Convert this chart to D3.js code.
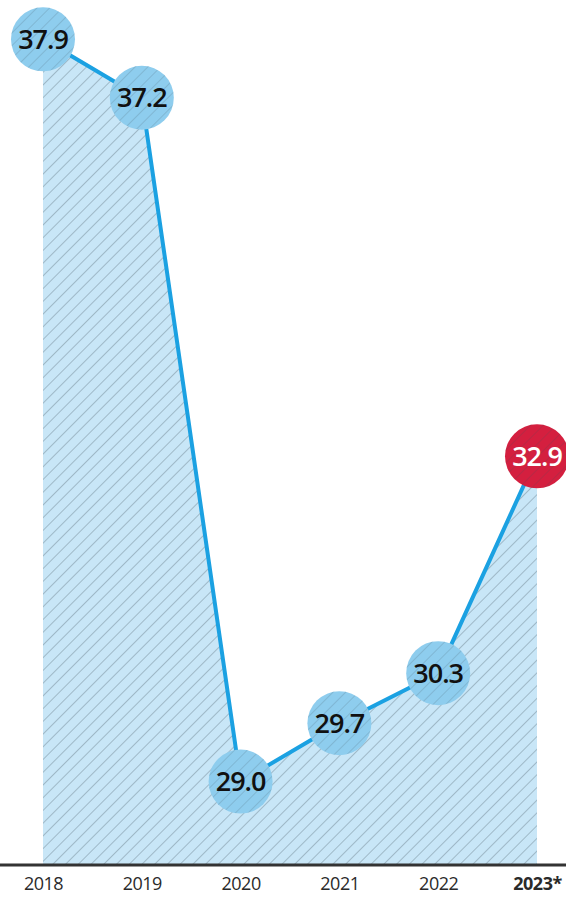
<!DOCTYPE html>
<html>
<head>
<meta charset="utf-8">
<script src="https://cdn.jsdelivr.net/npm/d3@7"></script>
<style>
  body { margin: 0; background: #fff; }
  svg { display: block; }
</style>
</head>
<body>
<div id="graph"></div>
<script>
var years = ["2018", "2019", "2020", "2021", "2022", "2023*"];
var values = [37.9, 37.2, 29.0, 29.7, 30.3, 32.9];
var highlight = [false, false, false, false, false, true];

var width = 566, height = 904;
var baseY = 865;

var vis = d3.select("#graph").append("svg")
  .attr("width", width)
  .attr("height", height);

var defs = vis.append("defs");
var pat = defs.append("pattern")
  .attr("id", "hatch")
  .attr("patternUnits", "userSpaceOnUse")
  .attr("width", 9)
  .attr("height", 9)
  .attr("patternTransform", "rotate(45)");
pat.append("line")
  .attr("x1", 0).attr("y1", 0)
  .attr("x2", 0).attr("y2", 9)
  .attr("stroke", "#3e4e5a")
  .attr("stroke-opacity", 0.6)
  .attr("stroke-width", 1);

var x = d3.scalePoint()
  .domain(years)
  .range([43, 537]);

var y = d3.scaleLinear()
  .domain([28, 38])
  .range([baseY, 31]);

var data = years.map(function(d, i) { return {year: d, value: values[i], hi: highlight[i]}; });

var area = d3.area()
  .x(function(d) { return x(d.year); })
  .y0(baseY)
  .y1(function(d) { return y(d.value); });

vis.append("path")
  .datum(data)
  .attr("d", area)
  .attr("fill", "#c8e6f7");
vis.append("path")
  .datum(data)
  .attr("d", area)
  .attr("fill", "url(#hatch)");

var line = d3.line()
  .x(function(d) { return x(d.year); })
  .y(function(d) { return y(d.value); });

vis.append("path")
  .datum(data)
  .attr("d", line)
  .attr("fill", "none")
  .attr("stroke", "#1ba1e2")
  .attr("stroke-width", 4);

// axis
var axis = d3.axisBottom(x).tickSize(0).tickPadding(12);
var ax = vis.append("g")
  .attr("transform", "translate(0," + baseY + ")")
  .call(axis);
ax.select(".domain").remove();
vis.append("line")
  .attr("x1", 0).attr("x2", width)
  .attr("y1", baseY).attr("y2", baseY)
  .attr("stroke", "#333")
  .attr("stroke-width", 3);
ax.selectAll("text")
  .attr("font-family", "Open Sans")
  .attr("font-size", 18)
  .attr("fill", "#2a2a2a")
  .attr("letter-spacing", -0.5)
  .attr("font-weight", function(d) { return d === "2023*" ? 700 : 400; });

var node = vis.selectAll("g.node")
  .data(data)
  .enter().append("g")
  .attr("class", "node")
  .attr("transform", function(d) { return "translate(" + x(d.year) + "," + y(d.value) + ")"; });

node.append("circle")
  .attr("r", 32)
  .attr("fill", function(d) { return d.hi ? "#d41f3f" : "#8ecdee"; });
node.append("circle")
  .attr("r", 32)
  .attr("fill", "url(#hatch)")
  .attr("opacity", 0.6);
node.append("text")
  .attr("text-anchor", "middle")
  .attr("dy", "0.36em")
  .attr("font-family", "Open Sans")
  .attr("font-weight", 600)
  .attr("font-size", 27)
  .attr("letter-spacing", -1)
  .attr("fill", function(d) { return d.hi ? "#fff" : "#111"; })
  .text(function(d) { return d.value.toFixed(1); });
</script>
</body>
</html>
